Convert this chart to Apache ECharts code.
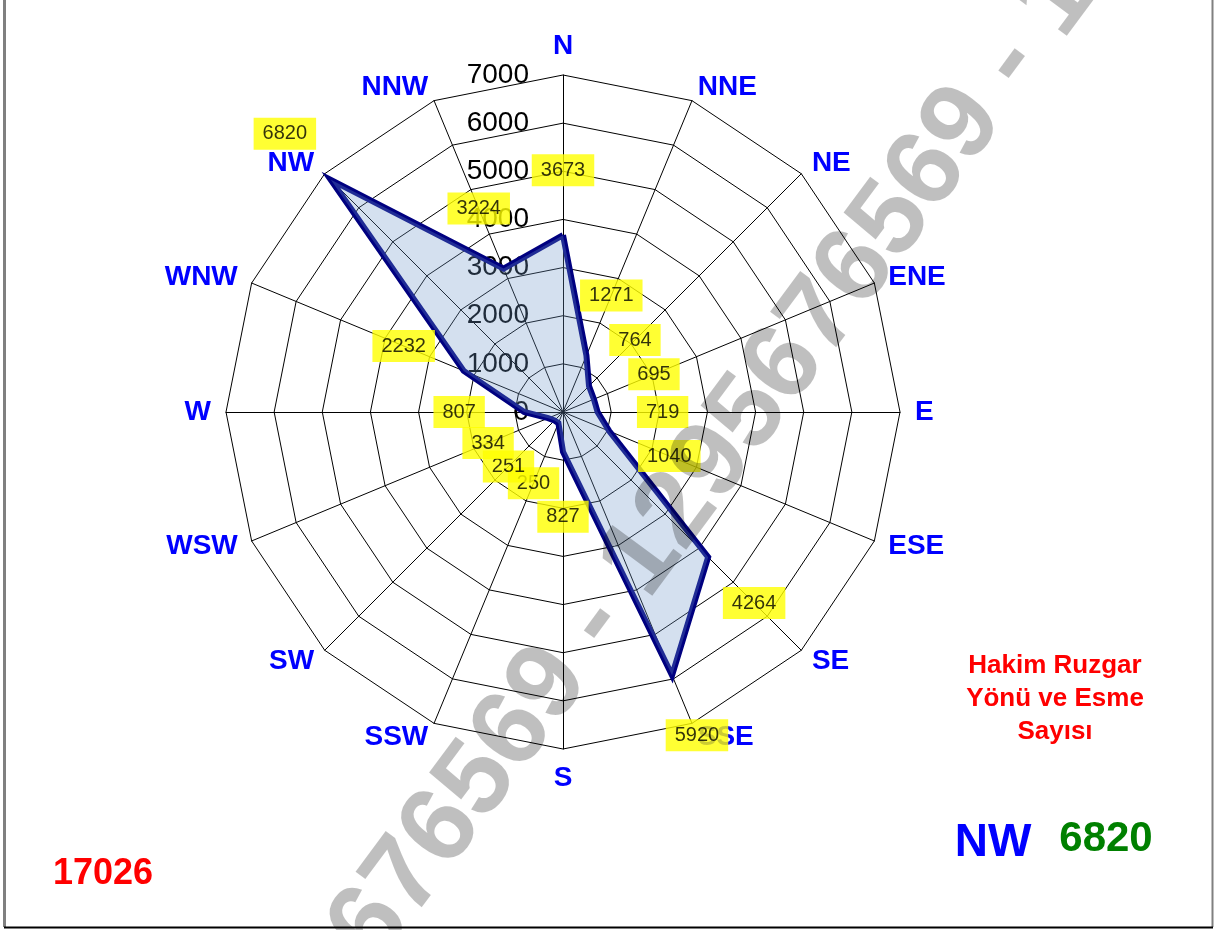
<!DOCTYPE html>
<html>
<head>
<meta charset="utf-8">
<script src="https://cdn.jsdelivr.net/npm/echarts@6/dist/echarts.min.js"></script>
<style>
html, body { margin: 0; padding: 0; background: #fff; }
#chart { width: 1215px; height: 930px; }
</style>
</head>
<body>
<div id="chart"></div>
<script>
var directions = ['N', 'NNE', 'NE', 'ENE', 'E', 'ESE', 'SE', 'SSE', 'S', 'SSW', 'SW', 'WSW', 'W', 'WNW', 'NW', 'NNW'];
var counts = [3673, 1271, 764, 695, 719, 1040, 4264, 5920, 827, 250, 251, 334, 807, 2232, 6820, 3224];
var radialMax = 7000;
var radialStep = 1000;
var totalText = '17026';
var titleLines = ['Hakim Ruzgar', 'Yönü ve Esme', 'Sayısı'];
var watermark = '1295676569 - 1295676569 - 1295676569';

var font = 'Arial, "Liberation Sans", sans-serif';
var cx = 563, cy = 412, R = 337;
var step = 360 / directions.length;

// radar in echarts goes counter-clockwise, so feed it N, NNW, NW ... NNE
var order = directions.map(function (d, i) { return i === 0 ? 0 : directions.length - i; });

var indicators = order.map(function (k, j) {
    var ind = { name: directions[k], min: 0, max: radialMax };
    if (j === 0) {
        ind.axisLabel = {
            show: true,
            color: '#000',
            fontSize: 28,
            fontFamily: font,
            margin: 34,
            formatter: function (v) { return String(v); }
        };
    }
    return ind;
});

// dominant direction
var maxIdx = 0;
counts.forEach(function (v, i) { if (v > counts[maxIdx]) maxIdx = i; });

var labelPoints = counts.map(function (v, i) {
    var a = i * step * Math.PI / 180;
    return {
        value: [v, i * step],
        label: { offset: [65 * Math.sin(a), -65 * Math.cos(a)] }
    };
});

var mychart = echarts.init(document.getElementById('chart'), null, { renderer: 'canvas' });

var option = {
    backgroundColor: '#fff',
    animation: false,
    radar: {
        center: [cx, cy],
        radius: R,
        startAngle: 90,
        shape: 'polygon',
        splitNumber: radialMax / radialStep,
        indicator: indicators,
        axisName: {
            color: '#0000ff',
            fontSize: 28,
            fontWeight: 'bold',
            fontFamily: font
        },
        nameGap: 15,
        axisLine: { lineStyle: { color: '#000', width: 1 } },
        splitLine: { lineStyle: { color: '#000', width: 1 } },
        splitArea: { show: false },
        axisTick: { show: false },
        axisLabel: { show: false }
    },
    polar: {
        center: [cx, cy],
        radius: R
    },
    angleAxis: {
        type: 'value',
        min: 0,
        max: 360,
        startAngle: 90,
        clockwise: true,
        show: false
    },
    radiusAxis: {
        type: 'value',
        min: 0,
        max: radialMax,
        show: false
    },
    series: [
        {
            type: 'radar',
            symbol: 'none',
            lineStyle: { color: '#000080', width: 6, join: 'miter', miterLimit: 20 },
            areaStyle: { color: 'rgba(110,150,200,0.42)' },
            data: [{ value: order.map(function (k) { return counts[k]; }) }]
        },
        {
            type: 'scatter',
            coordinateSystem: 'polar',
            symbolSize: 0,
            z: 4,
            label: {
                show: true,
                position: 'inside',
                formatter: function (p) { return p.value[0]; },
                color: '#000',
                fontSize: 20,
                fontFamily: font,
                backgroundColor: '#ffff00',
                padding: [7, 9, 5, 9]
            },
            data: labelPoints
        }
    ],
    graphic: [
        {
            type: 'text',
            x: 803, y: 342,
            rotation: 53.5 * Math.PI / 180,
            z: 100,
            style: {
                text: watermark,
                fill: 'rgba(0,0,0,0.25)',
                font: 'bold 108px ' + font,
                textAlign: 'center',
                textVerticalAlign: 'middle'
            }
        },
        {
            type: 'text',
            x: 1055, y: 699,
            style: {
                text: titleLines.join('\n'),
                fill: '#ff0000',
                font: 'bold 26px ' + font,
                lineHeight: 33,
                textAlign: 'center',
                textVerticalAlign: 'middle'
            }
        },
        {
            type: 'text',
            x: 993, y: 843,
            style: {
                text: directions[maxIdx],
                fill: '#0000ff',
                font: 'bold 46px ' + font,
                textAlign: 'center',
                textVerticalAlign: 'middle'
            }
        },
        {
            type: 'text',
            x: 1106, y: 839,
            style: {
                text: String(counts[maxIdx]),
                fill: '#008000',
                font: 'bold 42px ' + font,
                textAlign: 'center',
                textVerticalAlign: 'middle'
            }
        },
        {
            type: 'text',
            x: 103, y: 874,
            style: {
                text: totalText,
                fill: '#ff0000',
                font: 'bold 36px ' + font,
                textAlign: 'center',
                textVerticalAlign: 'middle'
            }
        },
        {
            type: 'polyline',
            shape: { points: [[4.5, -5], [4.5, 927]] },
            style: { stroke: '#808080', lineWidth: 3 }
        },
        {
            type: 'polyline',
            shape: { points: [[1212.5, -5], [1212.5, 927]] },
            style: { stroke: '#808080', lineWidth: 2 }
        },
        {
            type: 'polyline',
            shape: { points: [[4, 927.5], [1213, 927.5]] },
            style: { stroke: '#000', lineWidth: 2 }
        }
    ]
};
mychart.setOption(option);
</script>
</body>
</html>
